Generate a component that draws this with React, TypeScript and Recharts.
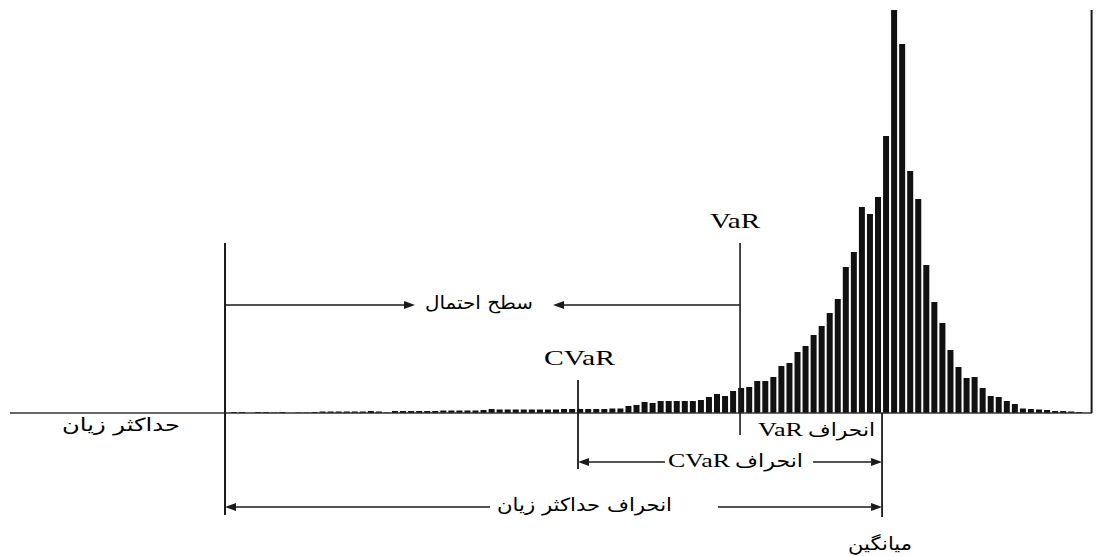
import React from 'react';
import { ComposedChart, Bar, XAxis, YAxis, ReferenceLine, ReferenceDot } from 'recharts';

// histogram bins (index of loss/return bin)
const bins = [
  0, 1, 2, 3, 4, 5, 6, 7, 8, 9, 10, 11, 12, 13, 14, 15, 16, 17, 18, 19,
  20, 21, 22, 23, 24, 25, 26, 27, 28, 29, 30, 31, 32, 33, 34, 35, 36, 37, 38, 39,
  40, 41, 42, 43, 44, 45, 46, 47, 48, 49, 50, 51, 52, 53, 54, 55, 56, 57, 58, 59,
  60, 61, 62, 63, 64, 65, 66, 67, 68, 69, 70, 71, 72, 73, 74, 75, 76, 77, 78, 79,
  80, 81, 82, 83, 84, 85, 86, 87, 88, 89, 90, 91, 92, 93, 94, 95, 96, 97, 98, 99,
  100, 101, 102, 103, 104, 105,
];

// frequencies
const frequency = [
  1, 1, 0, 1, 1, 0.5, 1, 0, 0.5, 0.5, 1, 1.5, 1.5, 1.5, 1.5, 1.5, 1.5, 2, 1.5, 0.5,
  2, 2, 2, 2, 2, 2, 2.5, 2.5, 2.5, 2.5, 2.5, 3, 4, 3.5, 3.5, 3.5, 3.5, 3.5, 3.5, 3.5,
  3.5, 4, 4, 4, 4, 4, 4, 4.5, 4.5, 7, 8, 11, 10, 12, 12, 12, 12, 12, 13, 16,
  19, 17, 22, 25, 26, 32, 32, 36, 47, 50, 61, 67, 78, 87, 100, 114, 146, 161, 206, 199,
  216, 277, 403, 369, 242, 214, 148, 111, 90, 63, 46, 35, 36, 25, 17, 16, 12, 9, 4.5, 4,
  3.5, 3, 2, 2, 1.5, 1,
];

const data = bins.map((b, i) => ({ bin: b, freq: frequency[i] }));

// key positions (in bin units)
const X_MIN = -27.83;
const X_MAX = 106.58;
const MAX_LOSS_X = -1.12;
const CVAR_X = 42.73;
const VAR_X = 62.86;
const MEAN_X = 80.5;
const Y_MAX = 403;

const INK = '#1a1a1a';
const PERSIAN_FONT = '"DejaVu Sans", sans-serif';
const LATIN_FONT = '"Liberation Serif", "Times New Roman", serif';

function ArrowLine(props: any) {
  const { x1, y1, x2, y2 } = props;
  const dx = x2 - x1;
  const dy = y2 - y1;
  const len = Math.hypot(dx, dy) || 1;
  const ux = dx / len;
  const uy = dy / len;
  const L = 11;
  const W = 4;
  const bx = x2 - ux * L;
  const by = y2 - uy * L;
  const pts = `${x2},${y2} ${bx - uy * W},${by + ux * W} ${bx + uy * W},${by - ux * W}`;
  return (
    <g>
      <line x1={x1} y1={y1} x2={bx} y2={by} stroke={INK} strokeWidth={1.6} />
      <polygon points={pts} fill={INK} />
    </g>
  );
}

function makeText(label: string, width: number, size: number, font: string) {
  return (p: any) => (
    <text
      x={p.cx}
      y={p.cy}
      textAnchor="middle"
      fontFamily={font}
      fontSize={size}
      fill="#000"
      textLength={width}
      lengthAdjust="spacingAndGlyphs"
    >
      {label}
    </text>
  );
}

// vertical marker lines: [x, yTop, yBottom, strokeWidth]
const verticals: [number, number, number, number][] = [
  [MAX_LOSS_X, 170, -102, 2],
  [VAR_X, 170, -22, 1.6],
  [CVAR_X, 33, -56, 1.8],
  [MEAN_X, 0, -104, 1.8],
  [X_MAX - 0.05, Y_MAX, 0, 2],
];

// arrows: [xFrom, yFrom, xTo(head), yTo]
const arrows: [number, number, number, number][] = [
  [MAX_LOSS_X, 108, 22.48, 108],
  [VAR_X, 108, 39.63, 108],
  [53.54, -49, CVAR_X, -49],
  [71.93, -49, MEAN_X, -49],
  [31.8, -94, MAX_LOSS_X, -94],
  [60.12, -94, MEAN_X, -94],
];

// labels: [text, x, y(baseline), width px, font size, font]
const labels: [string, number, number, number, number, string][] = [
  ['VaR', 62.24, 185, 50, 21, LATIN_FONT],
  ['CVaR', 42.92, 48, 71, 21, LATIN_FONT],
  ['سطح احتمال', 30.43, 104, 108, 18, PERSIAN_FONT],
  ['حداکثر زیان', -14.04, -18, 118, 18, PERSIAN_FONT],
  ['VaR', 67.89, -23, 45, 18, LATIN_FONT],
  ['انحراف', 75.47, -23, 67, 18, PERSIAN_FONT],
  ['CVaR', 57.76, -54, 62, 19, LATIN_FONT],
  ['انحراف', 66.46, -54, 68, 18, PERSIAN_FONT],
  ['انحراف حداکثر زیان', 43.54, -98, 175, 18, PERSIAN_FONT],
  ['میانگین', 80.25, -137, 64, 18, PERSIAN_FONT],
];

export default function App() {
  return (
    <div style={{ position: 'absolute', left: 0, top: 0, width: 1106, height: 556, background: '#fff' }}>
      <ComposedChart
        width={1106}
        height={556}
        data={data}
        margin={{ top: 10, right: 14, bottom: 143, left: 10 }}
      >
        <XAxis type="number" dataKey="bin" domain={[X_MIN, X_MAX]} allowDataOverflow hide />
        <YAxis type="number" domain={[0, Y_MAX]} allowDataOverflow hide />
        <Bar dataKey="freq" fill="#111" barSize={6} isAnimationActive={false} />
        <ReferenceLine y={0} stroke="#333" strokeWidth={1.5} ifOverflow="visible" />
        {verticals.map(([x, yt, yb, sw], i) => (
          <ReferenceLine
            key={`v${i}`}
            segment={[{ x, y: yt }, { x, y: yb }]}
            stroke={INK}
            strokeWidth={sw}
            ifOverflow="visible"
          />
        ))}
        {arrows.map(([xa, ya, xb, yb], i) => (
          <ReferenceLine
            key={`a${i}`}
            segment={[{ x: xa, y: ya }, { x: xb, y: yb }]}
            ifOverflow="visible"
            shape={(p: any) => <ArrowLine {...p} />}
          />
        ))}
        {labels.map(([t, x, y, w, s, f], i) => (
          <ReferenceDot
            key={`l${i}`}
            x={x}
            y={y}
            r={0}
            ifOverflow="visible"
            shape={makeText(t, w, s, f)}
          />
        ))}
      </ComposedChart>
    </div>
  );
}
